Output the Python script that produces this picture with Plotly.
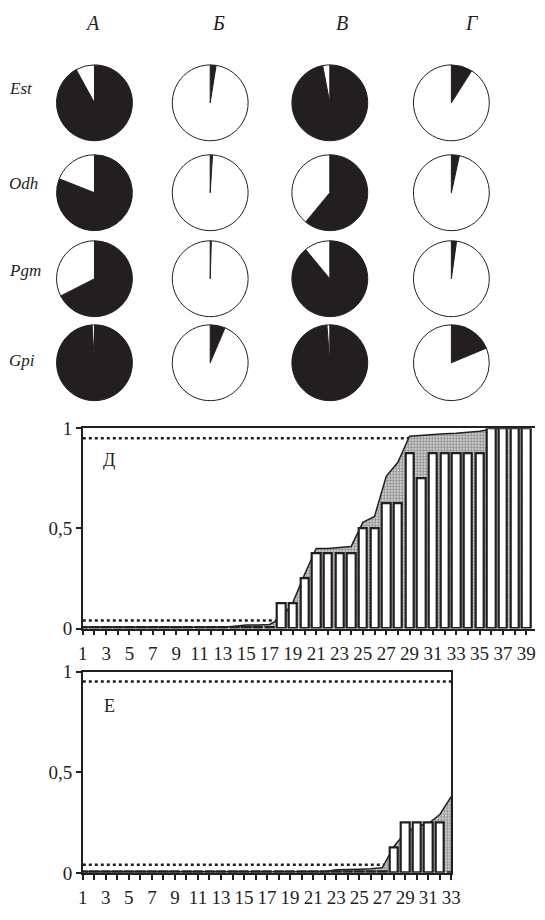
import plotly.graph_objects as go

W, H = 545, 920

# ---------------- data ----------------
pie_cols = ["А", "Б", "В", "Г"]
pie_rows = ["Est", "Odh", "Pgm", "Gpi"]
# share of the black sector in each pie (columns А, Б, В, Г)
est_black = [0.92, 0.025, 0.97, 0.09]
odh_black = [0.81, 0.01, 0.61, 0.034]
pgm_black = [0.675, 0.005, 0.89, 0.022]
gpi_black = [0.99, 0.064, 0.988, 0.187]

d_x = list(range(1, 40))
d_bars = [0.008] * 17 + [0.125, 0.125, 0.25, 0.375, 0.375, 0.375, 0.375,
                         0.5, 0.5, 0.625, 0.625, 0.875, 0.75,
                         0.875, 0.875, 0.875, 0.875, 0.875,
                         1.0, 1.0, 1.0, 1.0]
d_upper = [0.006] * 13 + [0.012, 0.018, 0.018, 0.02, 0.05, 0.13, 0.27,
                          0.40, 0.40, 0.405, 0.41, 0.53, 0.56, 0.76, 0.83,
                          0.96, 0.965, 0.968, 0.972, 0.975, 0.98, 0.985,
                          0.995, 1.0, 1.0, 1.0]
d_labels = ["1", "3", "5", "7", "9", "11", "13", "15", "17", "19", "21",
            "23", "25", "27", "29", "31", "33", "35", "37", "39"]

e_x = list(range(1, 34))
e_bars = [0.008] * 27 + [0.125, 0.25, 0.25, 0.25, 0.25, 0.0]
e_upper = [0.006] * 22 + [0.015, 0.018, 0.018, 0.02, 0.025,
                          0.13, 0.2, 0.23, 0.245, 0.29, 0.38]
e_labels = ["1", "3", "5", "7", "9", "11", "13", "15", "17", "19", "21",
            "23", "25", "27", "29", "31", "33"]

hi_level = 0.95
lo_level = 0.04
y_ticks = [0, 0.5, 1]
y_ticktext = ["0", "0,5", "1"]

# ---------------- layout helpers ----------------
SERIF = "Liberation Serif"
INK = "#231f20"
pie_cx = [92, 211, 334, 459]
pie_cy = [95, 187, 275, 361]
pie_r = 39
head_x = [90, 220, 347, 480]
head_y = 13
row_label_x = 2
row_label_y = [80, 178, 267, 359]


def px(x):
    return x / W


def py(y):
    return 1 - y / H


fig = go.Figure()

pie_data = [est_black, odh_black, pgm_black, gpi_black]
for ri, row in enumerate(pie_data):
    for ci, b in enumerate(row):
        cx, cy = pie_cx[ci], pie_cy[ri]
        fig.add_trace(go.Pie(
            values=[b, 1 - b],
            labels=["black", "white"],
            sort=False, direction="clockwise", rotation=0,
            marker=dict(colors=[INK, "#ffffff"],
                        line=dict(color=INK, width=1)),
            textinfo="none", hoverinfo="skip", showlegend=False,
            domain=dict(x=[px(cx - pie_r), px(cx + pie_r)],
                        y=[py(cy + pie_r), py(cy - pie_r)]),
        ))

dot_line = dict(color=INK, width=2.5, dash="3px,3px")
fill_pat = dict(shape=".", fgcolor=INK, bgcolor="#ffffff",
                size=3, solidity=0.7)
bar_marker = dict(color="#ffffff", line=dict(color=INK, width=2.2))

# Panel Д
fig.add_trace(go.Scatter(x=[d_x[0], d_x[-1]], y=[hi_level, hi_level], mode="lines",
                         line=dot_line, xaxis="x", yaxis="y", showlegend=False))
fig.add_trace(go.Scatter(x=[d_x[0], d_x[-1]], y=[lo_level, lo_level], mode="lines",
                         line=dot_line, xaxis="x", yaxis="y", showlegend=False))
fig.add_trace(go.Scatter(x=d_x, y=d_upper, mode="lines", fill="tozeroy",
                         fillpattern=fill_pat, fillcolor="#ffffff",
                         line=dict(color=INK, width=1.5),
                         xaxis="x", yaxis="y", showlegend=False))
fig.add_trace(go.Bar(x=d_x, y=d_bars, width=0.72, marker=bar_marker,
                     xaxis="x", yaxis="y3", showlegend=False))

# Panel Е
fig.add_trace(go.Scatter(x=[e_x[0], e_x[-1]], y=[hi_level, hi_level], mode="lines",
                         line=dot_line, xaxis="x2", yaxis="y2", showlegend=False))
fig.add_trace(go.Scatter(x=[e_x[0], e_x[-1]], y=[lo_level, lo_level], mode="lines",
                         line=dot_line, xaxis="x2", yaxis="y2", showlegend=False))
fig.add_trace(go.Scatter(x=e_x, y=e_upper, mode="lines", fill="tozeroy",
                         fillpattern=fill_pat, fillcolor="#ffffff",
                         line=dict(color=INK, width=1.5),
                         xaxis="x2", yaxis="y2", showlegend=False))
fig.add_trace(go.Bar(x=e_x, y=e_bars, width=0.72, marker=bar_marker,
                     xaxis="x2", yaxis="y4", showlegend=False))

tickfont = dict(family=SERIF, size=19, color=INK)


def xax(domain, rng, xs, labels, anchor):
    return dict(domain=domain, range=rng, anchor=anchor,
                showline=True, linecolor=INK, linewidth=1.5, mirror=True,
                ticks="outside", ticklen=5, tickwidth=1.5, tickcolor=INK,
                tickmode="array", tickvals=xs,
                ticktext=[str(k) if str(k) in labels else "" for k in xs],
                tickangle=0, tickfont=tickfont, ticklabelstandoff=2,
                showgrid=False, zeroline=False, fixedrange=True)


def yax(domain, anchor, mirror):
    return dict(domain=domain, range=[0, 1], anchor=anchor,
                showline=True, linecolor=INK, linewidth=1.5, mirror=mirror,
                ticks="outside", ticklen=5, tickwidth=1.5, tickcolor=INK,
                tickmode="array", tickvals=y_ticks, ticktext=y_ticktext,
                tickfont=tickfont, showgrid=False, zeroline=False, fixedrange=True)


d_ydom = [py(633), py(428)]
e_ydom = [py(883), py(677)]

annotations = []
for ci, name in enumerate(pie_cols):
    annotations.append(dict(text=name, x=px(head_x[ci]), y=py(head_y),
                            xref="paper", yref="paper", showarrow=False,
                            xanchor="center", yanchor="middle",
                            font=dict(family=SERIF, size=20, color=INK, style="italic")))
for ri, name in enumerate(pie_rows):
    annotations.append(dict(text=name, x=px(row_label_x), y=py(row_label_y[ri]),
                            xref="paper", yref="paper", showarrow=False,
                            xanchor="left", yanchor="middle",
                            font=dict(family=SERIF, size=17, color=INK, style="italic")))
annotations.append(dict(text="Д", x=px(107), y=py(460), xref="paper", yref="paper",
                        showarrow=False, xanchor="center", yanchor="middle",
                        font=dict(family=SERIF, size=18, color=INK)))
annotations.append(dict(text="Е", x=px(107), y=py(712), xref="paper", yref="paper",
                        showarrow=False, xanchor="center", yanchor="middle",
                        font=dict(family=SERIF, size=18, color=INK)))

fig.update_layout(
    width=W, height=H, autosize=False,
    margin=dict(l=0, r=0, t=0, b=0, pad=0),
    paper_bgcolor="#ffffff", plot_bgcolor="rgba(0,0,0,0)",
    showlegend=False, bargap=0, barmode="overlay",
    font=dict(family=SERIF, color=INK),
    xaxis=xax([px(80), 1.0], [1, 39.75], d_x, d_labels, "y"),
    yaxis=yax(d_ydom, "x", False),
    yaxis3=dict(domain=d_ydom, range=[0, 1], overlaying="y", anchor="x",
                visible=False, fixedrange=True),
    xaxis2=xax([px(80), px(459)], [1, 33], e_x, e_labels, "y2"),
    yaxis2=yax(e_ydom, "x2", True),
    yaxis4=dict(domain=e_ydom, range=[0, 1], overlaying="y2", anchor="x2",
                visible=False, fixedrange=True),
    annotations=annotations,
)

fig.write_html("out.html", config={"displayModeBar": False},
               post_script="document.body.style.margin='0px';document.body.style.overflow='hidden';")
